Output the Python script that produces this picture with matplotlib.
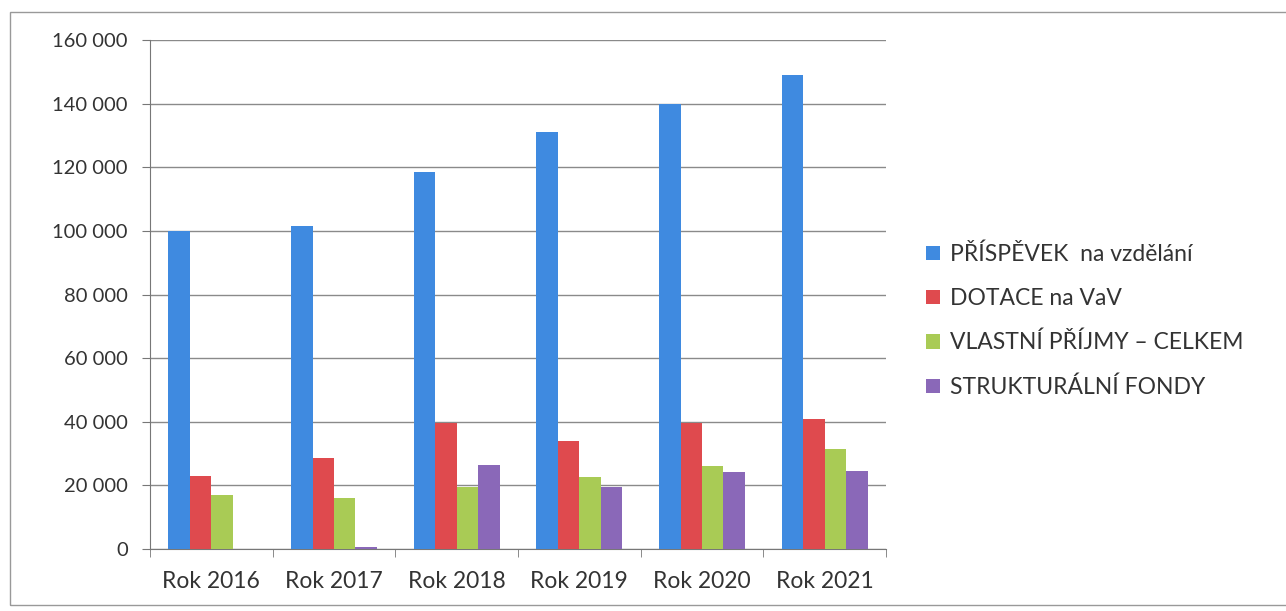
import matplotlib.pyplot as plt
import numpy as np
from matplotlib.patches import Rectangle
from matplotlib.ticker import FuncFormatter

plt.rcParams['font.family'] = ['Lato', 'DejaVu Sans']

years = ['Rok 2016', 'Rok 2017', 'Rok 2018', 'Rok 2019', 'Rok 2020', 'Rok 2021']
series_names = ['PŘÍSPĚVEK  na vzdělání', 'DOTACE na VaV',
                'VLASTNÍ PŘÍJMY – CELKEM', 'STRUKTURÁLNÍ FONDY']
prispevek = [100000, 101500, 118500, 131000, 140000, 149000]
dotace = [23000, 28500, 39500, 34000, 39500, 41000]
vlastni = [17000, 16000, 19500, 22500, 26000, 31500]
fondy = [0, 500, 26500, 19500, 24300, 24500]
colors = ['#3f8ae0', '#df4a4e', '#a9cb55', '#8a68b8']

values = [prispevek, dotace, vlastni, fondy]

fig = plt.figure(figsize=(12.86, 6.11), dpi=100)
ax = fig.add_axes([0.1166, 0.1015, 0.5724, 0.833])

x = np.arange(len(years))
width = 0.175
for i, (name, vals) in enumerate(zip(series_names, values)):
    ax.bar(x + (i - 1.5) * width, vals, width, color=colors[i], label=name, zorder=3)

ax.set_xlim(-0.5, len(years) - 0.5)
ax.set_ylim(0, 160000)
ax.set_yticks(np.arange(0, 160001, 20000))
ax.yaxis.set_major_formatter(FuncFormatter(lambda v, p: '{:,.0f}'.format(v).replace(',', ' ')))
ax.grid(axis='y', color='#8a8a8a', linewidth=1.0, zorder=0)

ax.set_xticks(x)
ax.set_xticklabels(years)
ax.set_xticks(np.arange(-0.5, len(years), 1.0), minor=True)
ax.tick_params(axis='x', which='major', length=0, labelsize=16.5, pad=16, labelcolor='#333333')
ax.tick_params(axis='x', which='minor', length=6, color='#777777')
ax.tick_params(axis='y', length=6, color='#777777', labelsize=14.5, pad=10, labelcolor='#333333')

for side in ['top', 'right']:
    ax.spines[side].set_visible(False)
ax.spines['left'].set_color('#777777')
ax.spines['bottom'].set_color('#777777')

handles, labels = ax.get_legend_handles_labels()
fig.legend(handles, labels, loc='center left', bbox_to_anchor=(0.72, 0.475),
           frameon=False, fontsize=16.5, handlelength=0.6, handleheight=0.6,
           handletextpad=0.45, labelspacing=1.0, borderaxespad=0, borderpad=0,
           labelcolor='#333333')

# outer chart frame
fig.patches.append(Rectangle((0.008, 0.01), 1.0, 0.97, transform=fig.transFigure,
                             fill=False, edgecolor='#999999', linewidth=1.0))

fig.savefig('out.png', dpi=100)
